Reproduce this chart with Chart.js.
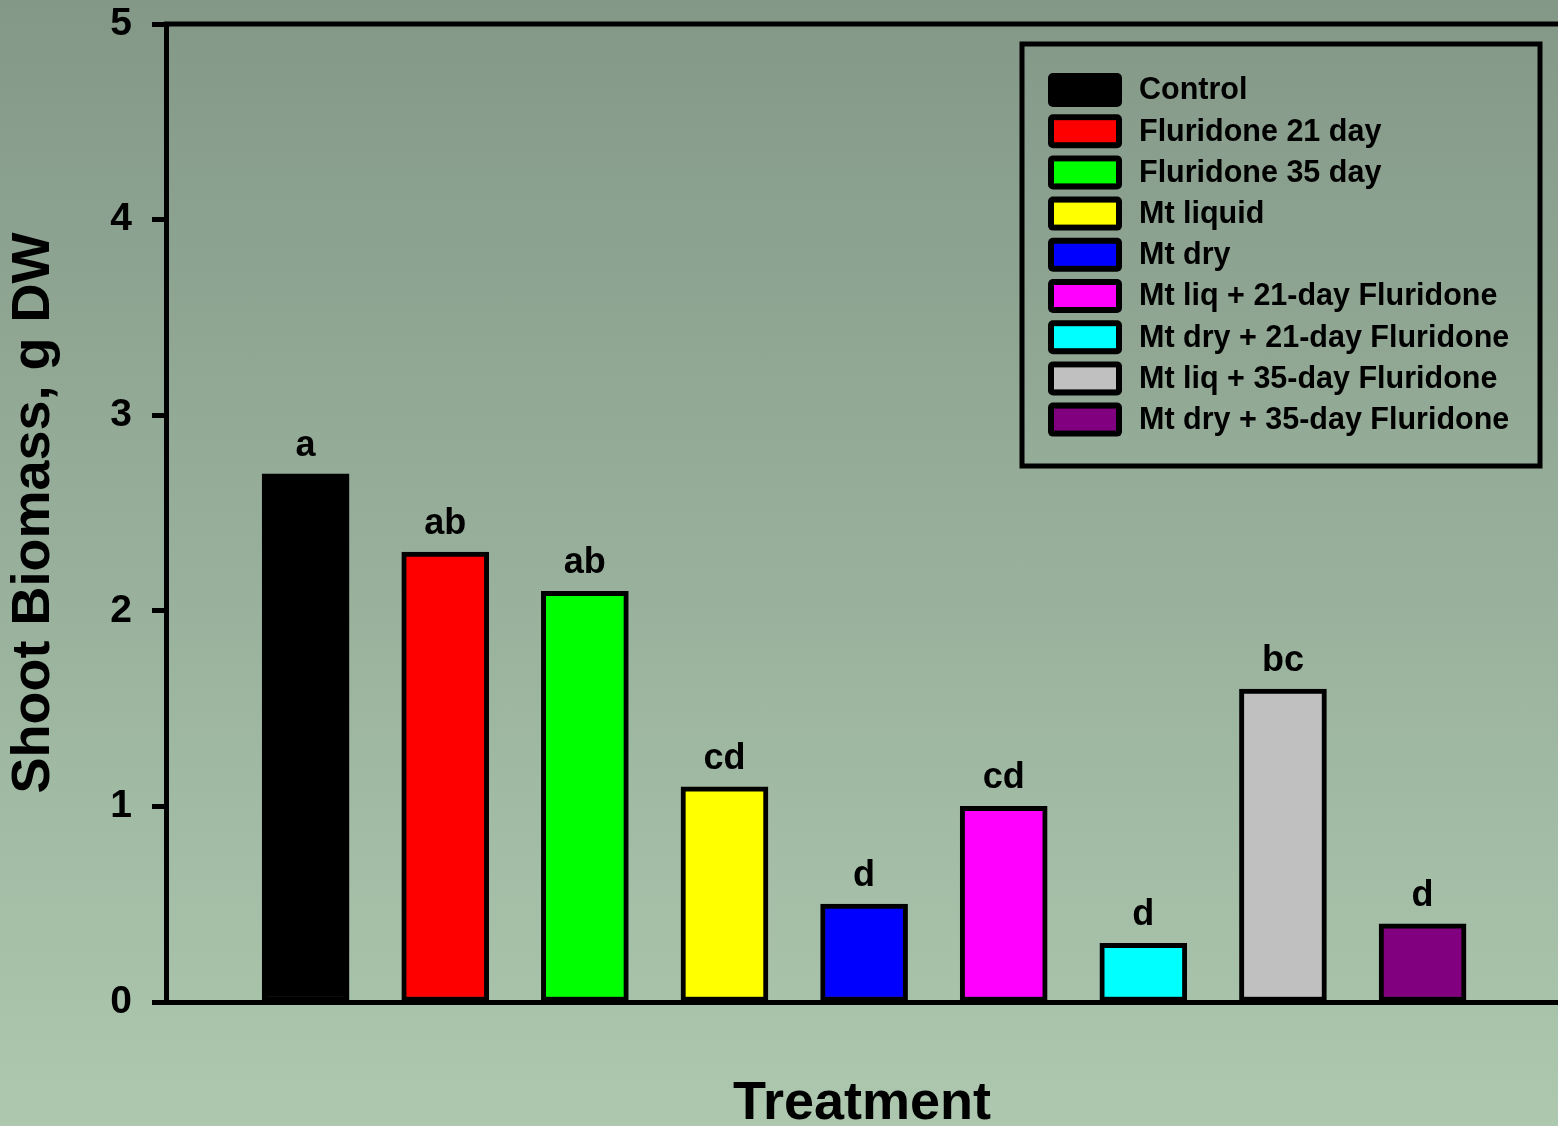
<!DOCTYPE html>
<html>
<head>
<meta charset="utf-8">
<script src="https://cdn.jsdelivr.net/npm/chart.js@4.4.1/dist/chart.umd.min.js"></script>
<style>
  html, body { margin: 0; padding: 0; overflow: hidden; }
  body { width: 1558px; height: 1126px; background: linear-gradient(to bottom, #849888 0%, #98b09b 50%, #adc8af 100%); }
  #wrap { position: relative; width: 1558px; height: 1126px; }
  canvas { display: block; }
</style>
</head>
<body>
<div id="wrap"><canvas id="biomassChart" width="1558" height="1126"></canvas></div>
<script>
// Shoot biomass by treatment
const treatments = [
  'Control',
  'Fluridone 21 day',
  'Fluridone 35 day',
  'Mt liquid',
  'Mt dry',
  'Mt liq + 21-day Fluridone',
  'Mt dry + 21-day Fluridone',
  'Mt liq + 35-day Fluridone',
  'Mt dry + 35-day Fluridone'
];
const biomass = [2.7, 2.3, 2.1, 1.1, 0.5, 1.0, 0.3, 1.6, 0.4];
const letters = ['a', 'ab', 'ab', 'cd', 'd', 'cd', 'd', 'bc', 'd'];
const barColors = ['#000000', '#ff0000', '#00ff00', '#ffff00', '#0000ff', '#ff00ff', '#00ffff', '#c0c0c0', '#800080'];
const yTicks = [0, 1, 2, 3, 4, 5];

const FONT = '"Liberation Sans", Arial, sans-serif';

// letters above each bar
const letterPlugin = {
  id: 'letters',
  afterDatasetsDraw(chart) {
    const ctx = chart.ctx;
    const meta = chart.getDatasetMeta(0);
    ctx.save();
    ctx.font = 'bold 36px ' + FONT;
    ctx.fillStyle = '#000';
    ctx.textAlign = 'center';
    ctx.textBaseline = 'alphabetic';
    meta.data.forEach((bar, i) => {
      ctx.fillText(letters[i], bar.x, bar.y - 18);
    });
    ctx.restore();
  }
};

// top frame line
const framePlugin = {
  id: 'frame',
  afterDraw(chart) {
    const { ctx, chartArea } = chart;
    ctx.save();
    ctx.strokeStyle = '#000';
    ctx.lineWidth = 5;
    ctx.beginPath();
    ctx.moveTo(chartArea.left - 2, chartArea.top);
    ctx.lineTo(chartArea.right + 5, chartArea.top);
    ctx.stroke();
    ctx.restore();
  }
};

// boxed legend inside the plot
const legendPlugin = {
  id: 'boxLegend',
  afterDraw(chart) {
    const ctx = chart.ctx;
    const box = { x: 1022, y: 44, w: 518, h: 422 };
    ctx.save();
    ctx.strokeStyle = '#000';
    ctx.lineWidth = 5;
    ctx.strokeRect(box.x, box.y, box.w, box.h);
    ctx.font = 'bold 30.5px ' + FONT;
    ctx.textBaseline = 'middle';
    ctx.textAlign = 'left';
    treatments.forEach((name, i) => {
      const cy = 90 + i * 41.2;
      ctx.fillStyle = '#000';
      ctx.beginPath();
      ctx.roundRect(1048, cy - 17, 74, 34, 5);
      ctx.fill();
      ctx.fillStyle = barColors[i];
      ctx.fillRect(1054, cy - 11, 62, 22);
      ctx.fillStyle = '#000';
      ctx.fillText(name, 1139, cy + 1);
    });
    ctx.restore();
  }
};

const ctx = document.getElementById('biomassChart');
new Chart(ctx, {
  type: 'bar',
  data: {
    datasets: [{
      data: biomass.map((v, i) => ({ x: i + 1, y: v })),
      backgroundColor: barColors,
      borderColor: '#000000',
      borderWidth: 5,
      borderSkipped: false,
      barThickness: 87
    }]
  },
  options: {
    responsive: false,
    animation: false,
    devicePixelRatio: 1,
    layout: { padding: { top: 24, left: 0, right: 0, bottom: 0 } },
    plugins: {
      legend: { display: false },
      tooltip: { enabled: false }
    },
    scales: {
      x: {
        type: 'linear',
        min: 0,
        max: 9.97,
        offset: false,
        ticks: { display: false },
        grid: { display: false },
        border: { display: true, color: '#000', width: 5 },
        title: {
          display: true,
          text: 'Treatment',
          color: '#000',
          font: { family: FONT, size: 54, weight: 'bold', lineHeight: 0.8 },
          padding: { top: 0, bottom: 0 }
        },
        afterFit(scale) {
          scale.height = 124;
          scale.paddingLeft = 0;
          scale.paddingRight = 0;
        }
      },
      y: {
        min: 0,
        max: 5,
        afterBuildTicks(scale) { scale.ticks = yTicks.map(v => ({ value: v })); },
        ticks: {
          color: '#000',
          padding: 20,
          font: { family: FONT, size: 39, weight: 'bold' }
        },
        grid: {
          display: true,
          drawOnChartArea: false,
          drawTicks: true,
          tickLength: 14,
          tickWidth: 5,
          tickColor: '#000'
        },
        border: { display: true, color: '#000', width: 5 },
        title: {
          display: true,
          text: 'Shoot Biomass, g DW',
          color: '#000',
          font: { family: FONT, size: 54, weight: 'bold', lineHeight: 1.2 },
          padding: { top: 2, bottom: 0 }
        },
        afterFit(scale) {
          scale.width = 166;
          scale.paddingTop = 0;
          scale.paddingBottom = 0;
        }
      }
    }
  },
  plugins: [letterPlugin, framePlugin, legendPlugin]
});
</script>
</body>
</html>
